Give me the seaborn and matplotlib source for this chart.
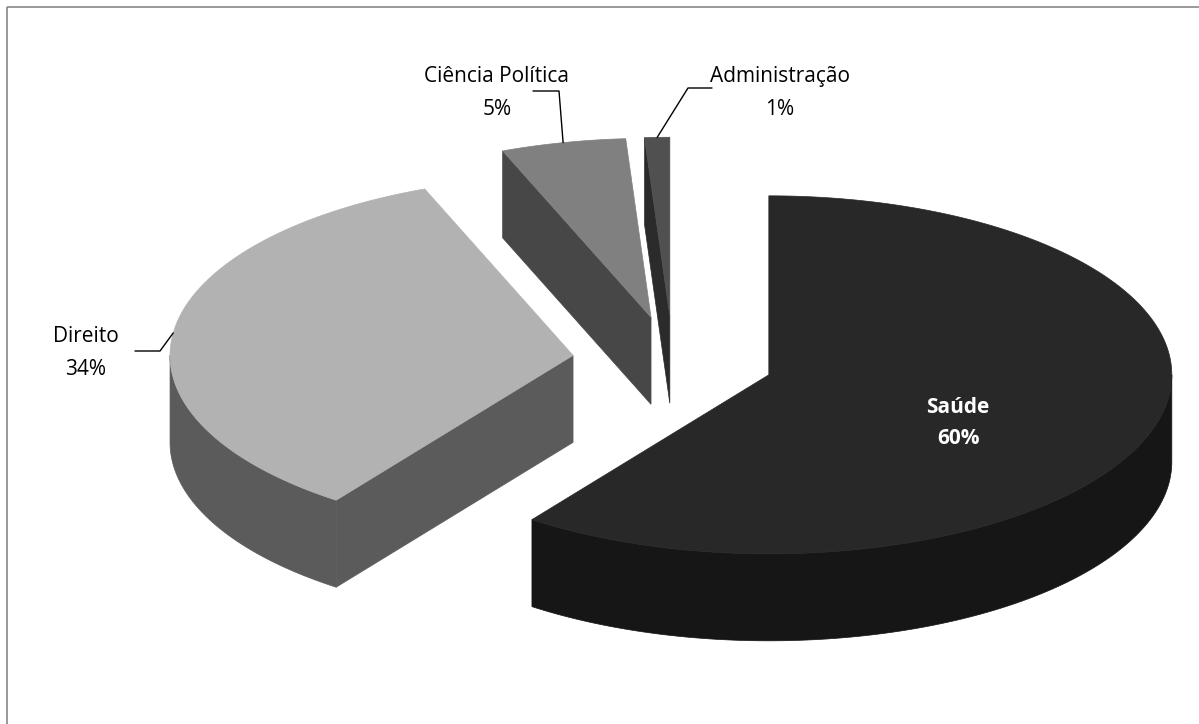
import numpy as np
import matplotlib
matplotlib.use("Agg")
import matplotlib.pyplot as plt
from matplotlib.patches import Polygon, Rectangle
import seaborn as sns

# Share of cases by field
categories = ["Saúde", "Direito", "Ciência Política", "Administração"]
shares = [60, 34, 5, 1]
pct_labels = ["60%", "34%", "5%", "1%"]

sns.set_theme(style="white")
plt.rcParams["font.family"] = ["Open Sans", "DejaVu Sans"]

top_colors = sns.color_palette(["#282828", "#b2b2b2", "#808080", "#505050"])
side_colors = sns.color_palette(["#161616", "#5b5b5b", "#474747", "#2b2b2b"])

# 3-D pie geometry (drawing units = pixels)
CX, CY = 673.0, 361.0
RX, RY = 403.0, 179.0
DEPTH = 87.0
EXPLODE = 0.25


def rim(cx, cy, ang, dy=0.0):
    a = np.radians(ang)
    return np.column_stack([cx + RX * np.sin(a), cy - RY * np.cos(a) + dy])


fig = plt.figure(figsize=(11.99, 7.24), dpi=100)
ax = fig.add_axes([0, 0, 1, 1])
ax.set_xlim(0, 1199)
ax.set_ylim(724, 0)
ax.axis("off")

# chart frame
ax.add_patch(Rectangle((7, 7), 1250, 800, fill=False, ec="#888888", lw=1.2, zorder=0))

bounds = np.concatenate([[0], np.cumsum(shares)]) / sum(shares) * 360.0
slices = []
for i, v in enumerate(shares):
    a0, a1 = bounds[i], bounds[i + 1]
    mid = 0.5 * (a0 + a1)
    m = np.radians(mid)
    cx = CX + EXPLODE * RX * np.sin(m)
    cy = CY - EXPLODE * RY * np.cos(m)
    slices.append((i, a0, a1, mid, cx, cy))

# paint back slices first
order = [3, 2, 1, 0]
for z, idx in enumerate(order):
    i, a0, a1, mid, cx, cy = slices[idx]
    base = 10 + z * 5
    # radial cut faces that face the viewer
    for ang, nrm in ((a0, a0 - 90), (a1, a1 + 90)):
        if np.cos(np.radians(nrm)) < -1e-3:
            p = rim(cx, cy, [ang])[0]
            quad = [(cx, cy), tuple(p), (p[0], p[1] + DEPTH), (cx, cy + DEPTH)]
            ax.add_patch(Polygon(quad, closed=True, fc=side_colors[i], ec=side_colors[i],
                                 lw=0.5, zorder=base))
    # outer curved wall (front half only)
    lo, hi = max(a0, 90), min(a1, 270)
    if hi > lo:
        t = np.linspace(lo, hi, 120)
        upper = rim(cx, cy, t)
        lower = rim(cx, cy, t[::-1], DEPTH)
        ax.add_patch(Polygon(np.vstack([upper, lower]), closed=True,
                             fc=side_colors[i], ec=side_colors[i], lw=0.5, zorder=base + 1))
    # top face
    t = np.linspace(a0, a1, max(int((a1 - a0) * 2), 8))
    pts = np.vstack([[[cx, cy]], rim(cx, cy, t)])
    ax.add_patch(Polygon(pts, closed=True, fc=top_colors[i], ec=top_colors[i],
                         lw=0.5, zorder=base + 2))

# data labels
fs = 15
lab = {}
for i, a0, a1, mid, cx, cy in slices:
    lab[i] = rim(cx, cy, [mid])[0]

# Saúde: inside the slice
ax.text(958, 413, categories[0], color="white", fontsize=fs, fontweight="bold",
        ha="center", va="baseline", zorder=50)
ax.text(958, 444, pct_labels[0], color="white", fontsize=fs, fontweight="bold",
        ha="center", va="baseline", zorder=50)

# outside labels with leader lines
outside = {
    1: dict(xy=(86, 342), line=[(135, 351), (160, 351)]),
    2: dict(xy=(497, 82), line=[(533, 91), (559, 91)]),
    3: dict(xy=(780, 82), line=[(712, 88), (688, 88)]),
}
for i, o in outside.items():
    x, y = o["xy"]
    ax.text(x, y, categories[i], fontsize=fs, color="black", ha="center", va="baseline", zorder=50)
    ax.text(x, y + 33, pct_labels[i], fontsize=fs, color="black", ha="center", va="baseline", zorder=50)
    pts = o["line"] + [tuple(lab[i])]
    xs, ys = zip(*pts)
    ax.plot(xs, ys, color="black", lw=1.0, zorder=49)

fig.savefig("out.png", dpi=100, facecolor="white")
